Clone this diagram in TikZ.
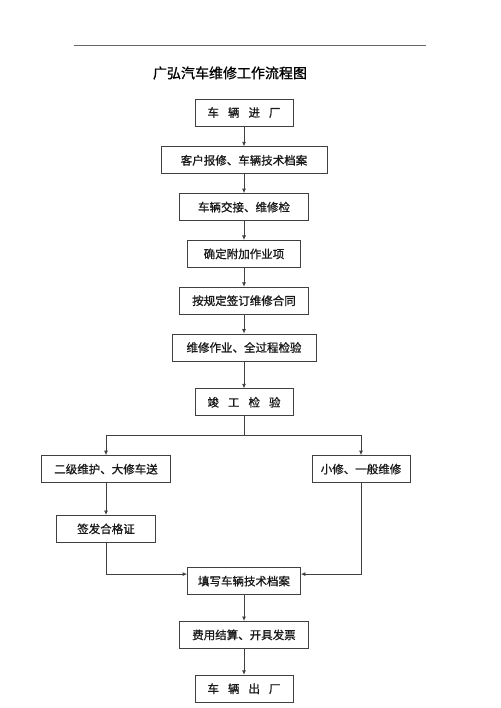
\documentclass[tikz,border=0pt]{standalone}
\usepackage{fontspec}
\newfontfamily\cjk[FakeBold=1]{Noto Sans CJK SC}
\usetikzlibrary{positioning,arrows.meta}
\newcommand\kgap{\hspace{9pt}}

\tikzset{
    box/.style={draw=black!75, line width=0.8pt, minimum height=27pt, inner sep=2pt,
        font=\cjk\fontsize{11.5}{13}\selectfont, text=black!90},
    arr/.style={draw=black!75, line width=0.8pt, -{Latex[length=4.5pt,width=4pt]}},
    link/.style={draw=black!75, line width=0.8pt},
}

\begin{document}
\begin{tikzpicture}[x=1pt, y=1pt]
    \useasboundingbox (0,0) rectangle (500,-708);
    \draw[black!60, line width=0.6pt] (74,-45) -- (426,-45);
    \node[font=\cjk\fontsize{14}{16}\selectfont] (title) at (230,-73) {广弘汽车维修工作流程图};

    \node[box, minimum width=98pt] (enter) at (244,-112.5) {车\kgap 辆\kgap 进\kgap 厂};
    \node[box, minimum width=166pt] (report) [below=20pt of enter] {客户报修、车辆技术档案};
    \node[box, minimum width=129pt] (handover) [below=19pt of report] {车辆交接、维修检};
    \node[box, minimum width=113pt] (extra) [below=19pt of handover] {确定附加作业项};
    \node[box, minimum width=129pt] (contract) [below=19pt of extra] {按规定签订维修合同};
    \node[box, minimum width=144pt] (repair) [below=19pt of contract] {维修作业、全过程检验};
    \node[box, minimum width=98pt] (check) [below=27pt of repair] {竣\kgap 工\kgap 检\kgap 验};
    \node[box, minimum width=129pt] (major) [below=39pt of check, xshift=-138pt] {二级维护、大修车送};
    \node[box, minimum width=98pt] (minor) [below=39pt of check, xshift=117pt] {小修、一般维修};
    \node[box, minimum width=99pt] (cert) [below=32pt of major] {签发合格证};
    \node[box, minimum width=113pt] (record) [below=151pt of check] {填写车辆技术档案};
    \node[box, minimum width=129pt] (bill) [below=26pt of record] {费用结算、开具发票};
    \node[box, minimum width=98pt] (leave) [below=26pt of bill] {车\kgap 辆\kgap 出\kgap 厂};

    \draw[arr] (enter) -- (report);
    \draw[arr] (report) -- (handover);
    \draw[arr] (handover) -- (extra);
    \draw[arr] (extra) -- (contract);
    \draw[arr] (contract) -- (repair);
    \draw[arr] (repair) -- (check);
    \draw[link] (check.south) -- ++(0,-19) coordinate (split);
    \draw[arr] (split) -| (major.north);
    \draw[arr] (split) -| (minor.north);
    \draw[arr] (major) -- (cert);
    \draw[arr] (cert.south) |- ([yshift=7pt]record.west);
    \draw[arr] (minor.south) |- ([yshift=7pt]record.east);
    \draw[arr] (record) -- (bill);
    \draw[arr] (bill) -- (leave);
\end{tikzpicture}
\end{document}
